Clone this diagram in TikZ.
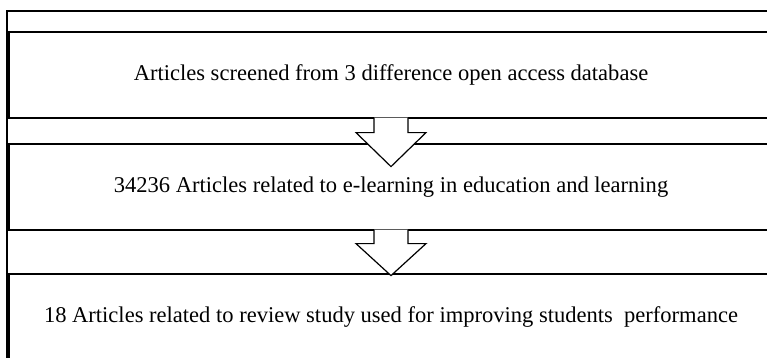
\documentclass[tikz,border=0pt]{standalone}
\usepackage{fontspec}
\setmainfont{Liberation Serif}
\usetikzlibrary{calc}

\tikzset{
  stage/.style={draw, line width=0.9pt, minimum width=573pt, minimum height=64.5pt,
    inner sep=0pt, font=\fontsize{16.9}{20}\selectfont},
  flow/.style={draw, fill=white, line width=0.9pt, line join=miter},
}

\begin{document}
\begin{tikzpicture}[x=0.75pt, y=-0.75pt]
  \useasboundingbox (0,0) rectangle (767,357);
  \clip (0,0) rectangle (767,357);
  % outer frame, open to the right and below
  \draw[line width=1.8pt] (7,400) -- (7,11) -- (800,11);
  % the three stages
  \node[stage] (s1) at (391,75) {Articles screened from 3 difference open access database};
  \node[stage] (s2) at (391,187) {34236 Articles related to e-learning in education and learning};
  \node[stage] (s3) at (391,317) {18 Articles related to review study used for improving students~ performance};
  % block arrows between stages
  \filldraw[flow] ($(s1.south)+(-17,-1)$) -- ($(s1.south)+(-17,14)$) -- ($(s1.south)+(-35,14)$)
    -- ($(s1.south)+(0,48)$) -- ($(s1.south)+(35,14)$) -- ($(s1.south)+(17,14)$) -- ($(s1.south)+(17,-1)$);
  \filldraw[flow] ($(s2.south)+(-17,-1)$) -- ($(s2.south)+(-17,13)$) -- ($(s2.south)+(-35,13)$)
    -- ($(s2.south)+(0,45)$) -- ($(s2.south)+(35,13)$) -- ($(s2.south)+(17,13)$) -- ($(s2.south)+(17,-1)$);
\end{tikzpicture}
\end{document}
